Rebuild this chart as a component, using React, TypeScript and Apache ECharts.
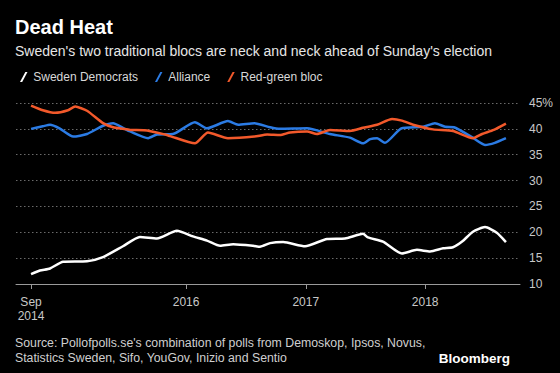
import React, { useEffect, useRef } from "react";
import * as echarts from "echarts";

const sdDates = ["2014-09-14","2014-10-11","2014-11-11","2014-12-21","2015-03-04","2015-04-22","2015-06-22","2015-08-13","2015-10-04","2015-12-04","2016-01-22","2016-03-05","2016-04-14","2016-05-24","2016-07-24","2016-08-14","2016-09-14","2016-10-24","2016-12-30","2017-03-07","2017-05-01","2017-06-25","2017-07-10","2017-08-25","2017-10-22","2017-12-07","2018-01-16","2018-02-25","2018-03-27","2018-04-24","2018-05-27","2018-07-03","2018-08-08","2018-09-05"];
const sdValues = [11.9,12.6,13.0,14.3,14.4,15.2,17.3,19.1,18.8,20.3,19.2,18.4,17.4,17.7,17.4,17.2,17.9,18.1,17.3,18.7,18.8,19.7,19.0,18.2,15.9,16.6,16.3,16.9,17.1,18.2,20.1,21.0,19.9,18.1];

const allianceDates = ["2014-09-14","2014-10-20","2014-11-11","2014-12-10","2015-01-21","2015-03-04","2015-04-22","2015-05-23","2015-06-22","2015-07-14","2015-09-07","2015-10-04","2015-11-22","2016-01-28","2016-03-05","2016-05-08","2016-06-08","2016-07-28","2016-09-14","2016-10-14","2017-01-05","2017-03-16","2017-05-16","2017-06-25","2017-07-17","2017-08-07","2017-08-31","2017-10-20","2017-12-26","2018-01-31","2018-03-03","2018-03-30","2018-05-24","2018-07-03","2018-08-02","2018-09-05"];
const allianceValues = [40.0,40.5,40.8,40.1,38.5,39.0,40.6,41.1,40.2,39.5,38.2,38.9,39.0,41.3,40.1,41.5,40.8,41.1,40.3,40.0,40.1,39.0,38.3,37.2,38.0,38.2,37.3,40.1,40.4,41.1,40.4,40.3,38.4,36.9,37.3,38.2];

const redGreenDates = ["2014-09-14","2014-10-20","2014-11-27","2015-01-05","2015-01-27","2015-03-04","2015-04-22","2015-05-23","2015-06-22","2015-07-14","2015-09-04","2015-10-29","2015-11-13","2016-01-28","2016-03-08","2016-05-08","2016-07-28","2016-09-05","2016-10-14","2016-11-14","2017-01-05","2017-02-04","2017-03-16","2017-05-16","2017-06-25","2017-08-07","2017-09-22","2017-10-22","2017-11-25","2018-01-25","2018-03-27","2018-05-27","2018-06-24","2018-07-30","2018-09-05"];
const redGreenValues = [44.5,43.6,43.1,43.6,44.3,43.5,41.1,40.3,40.0,39.8,39.7,38.9,38.6,37.2,39.3,38.2,38.5,38.9,38.8,39.3,39.5,39.0,39.8,39.6,40.2,40.8,41.9,41.6,40.8,39.9,39.6,38.2,39.0,39.8,41.0];

const seriesNames = ["Sweden Democrats", "Alliance", "Red-green bloc"];
const seriesColors = ["#ffffff", "#2b7be4", "#f2592b"];

const xTickDates = ["2014-09-14", "2016-01-01", "2017-01-01", "2018-01-01"];
const xTickLabels = ["Sep\n2014", "2016", "2017", "2018"];
const xMinDate = "2014-07-30";
const xMaxDate = "2018-10-18";

const yMin = 10;
const yMax = 45;
const yInterval = 5;

const titleText = "Dead Heat";
const subtitleText = "Sweden's two traditional blocs are neck and neck ahead of Sunday's election";
const sourceLines = [
  "Source: Pollofpolls.se's combination of polls from Demoskop, Ipsos, Novus,",
  "Statistics Sweden, Sifo, YouGov, Inizio and Sentio",
];
const brandText = "Bloomberg";

function ts(s: string): number {
  const [y, m, d] = s.split("-").map(Number);
  return Date.UTC(y, m - 1, d);
}

function pairs(dates: string[], values: number[]) {
  return dates.map((d, i) => [ts(d), values[i]]);
}

const FONT = "Liberation Sans, Arial, sans-serif";

export default function App() {
  const ref = useRef<HTMLDivElement>(null);
  useEffect(() => {
    if (!ref.current) return;
    const chart = echarts.init(ref.current, undefined, { renderer: "svg" });
    const tickTs = xTickDates.map(ts);
    const labelMap: Record<number, string> = {};
    tickTs.forEach((t, i) => (labelMap[t] = xTickLabels[i]));
    const allData = [pairs(sdDates, sdValues), pairs(allianceDates, allianceValues), pairs(redGreenDates, redGreenValues)];

    chart.setOption({
      animation: false,
      backgroundColor: "#000000",
      textStyle: { fontFamily: FONT },
      grid: { left: 16, right: 40, top: 103, bottom: 89 },
      legend: {
        left: 15,
        top: 66,
        itemWidth: 9,
        itemHeight: 10,
        itemGap: 17,
        icon: "path://M0,12 L2.6,12 L9,0 L6.4,0 Z",
        data: seriesNames,
        textStyle: { color: "#d8d8d8", fontSize: 12, fontFamily: FONT },
      },
      xAxis: {
        type: "value",
        min: ts(xMinDate),
        max: ts(xMaxDate),
        axisLine: { show: true, lineStyle: { color: "#9a9a9a", width: 1 } },
        axisTick: { show: true, length: 5, customValues: tickTs, lineStyle: { color: "#9a9a9a" } },
        axisLabel: {
          customValues: tickTs,
          color: "#c8c8c8",
          fontSize: 12,
          lineHeight: 14,
          margin: 11,
          fontFamily: FONT,
          formatter: (v: number) => labelMap[v] ?? "",
        },
        splitLine: { show: false },
      },
      yAxis: {
        type: "value",
        position: "right",
        min: yMin,
        max: yMax,
        interval: yInterval,
        axisLine: { show: false },
        axisTick: { show: false },
        axisLabel: {
          color: "#c8c8c8",
          fontSize: 12,
          margin: 9,
          fontFamily: FONT,
          formatter: (v: number) => (v === yMax ? `${v}%` : `${v}`),
        },
        splitLine: { show: true, lineStyle: { color: "#6a6a6a", type: [1.5, 2.5], width: 1 } },
      },
      series: seriesNames.map((name, i) => ({
        name,
        type: "line",
        data: allData[i],
        showSymbol: false,
        symbol: "none",
        smooth: 0.2,
        color: seriesColors[i],
        lineStyle: { color: seriesColors[i], width: 2.5 },
        z: 2 + i,
      })),
      graphic: [
        { type: "text", left: 15, top: 17, style: { text: titleText, fill: "#ffffff", font: `bold 20px ${FONT}` } },
        { type: "text", left: 15, top: 44, style: { text: subtitleText, fill: "#e6e6e6", font: `14px ${FONT}` } },
        { type: "text", left: 15, top: 335, style: { text: sourceLines.join("\n"), fill: "#cfcfcf", font: `12.3px ${FONT}`, lineHeight: 15 } },
        { type: "text", right: 50, top: 351, style: { text: brandText, fill: "#ffffff", font: `bold 13.5px ${FONT}` } },
      ],
    });
    return () => chart.dispose();
  }, []);
  return (
    <div
      ref={ref}
      style={{ position: "fixed", left: 0, top: 0, width: 560, height: 373, background: "#000" }}
    />
  );
}
